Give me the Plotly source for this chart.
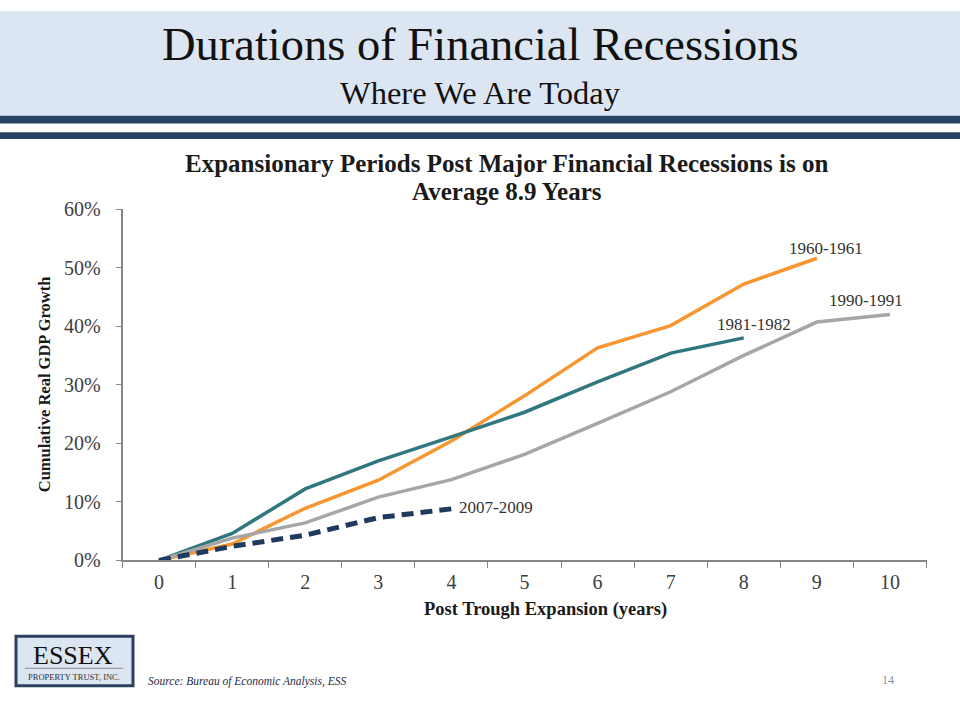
import plotly.graph_objects as go

W, H = 960, 720

years = ["0", "1", "2", "3", "4", "5", "6", "7", "8", "9", "10"]
s_1960 = [0, 2.8, 8.9, 13.7, 20.4, 28.1, 36.3, 40.1, 47.2, 51.6]
s_1981 = [0, 4.6, 12.2, 17.0, 21.1, 25.3, 30.5, 35.4, 38.0]
s_1990 = [0, 3.8, 6.4, 10.8, 13.8, 18.1, 23.4, 28.8, 35.0, 40.7, 42.0]
s_2007 = [0, 2.4, 4.3, 7.3, 8.8]
y_ticks = [0, 10, 20, 30, 40, 50, 60]

names = ["1960-1961", "1981-1982", "1990-1991", "2007-2009"]
colors = ["#F7962F", "#31777F", "#A6A6A6", "#1F3A5F"]

SERIF = "Liberation Serif"

def px(x):
    return x / W

def py(y):
    return 1 - y / H

fig = go.Figure()
for name, vals, col in zip(names[:3], [s_1960, s_1981, s_1990], colors[:3]):
    fig.add_trace(go.Scatter(x=years[:len(vals)], y=vals, mode="lines", name=name,
                             line=dict(color=col, width=3.5), showlegend=False, hoverinfo="skip"))
fig.add_trace(go.Scatter(x=years[:len(s_2007)], y=s_2007, mode="lines", name=names[3],
                         line=dict(color=colors[3], width=5, dash="12px,7px"), showlegend=False,
                         hoverinfo="skip"))

axis_col = "#868686"
fig.update_layout(
    width=W, height=H,
    margin=dict(l=0, r=0, t=0, b=0),
    paper_bgcolor="white", plot_bgcolor="white",
    font=dict(family=SERIF, color="#404040"),
    xaxis=dict(domain=[px(122.5), px(926.5)], type="category", categoryorder="array",
               categoryarray=years, tickmode="array", tickvals=years, ticktext=years,
               tickson="boundaries", ticks="outside", ticklen=6, tickcolor=axis_col,
               showline=True, linecolor=axis_col, linewidth=1.5, showgrid=False,
               zeroline=False, range=[-0.5, 10.5], tickfont=dict(size=20, color="#404040"),
               ticklabelstandoff=3, fixedrange=True),
    yaxis=dict(domain=[py(566.7), py(204.3)], range=[0, 60], tickvals=y_ticks,
               ticktext=[f"{v}%" for v in y_ticks], ticks="outside", ticklen=5,
               tickcolor=axis_col, showline=True, linecolor=axis_col, linewidth=1.5,
               showgrid=False, zeroline=False, tickfont=dict(size=20, color="#404040"),
               ticklabelstandoff=11, fixedrange=True),
)

shapes = [
    dict(type="rect", xref="paper", yref="paper", x0=0, x1=1, y0=py(108), y1=1,
         fillcolor="#DCE6F2", line=dict(width=0), layer="below"),
    dict(type="rect", xref="paper", yref="paper", x0=0, x1=1, y0=py(116), y1=py(108),
         fillcolor="#2A4365", line=dict(width=0)),
    dict(type="rect", xref="paper", yref="paper", x0=0, x1=1, y0=py(132), y1=py(125),
         fillcolor="#2A4365", line=dict(width=0)),
    # logo
    dict(type="rect", xref="paper", yref="paper", x0=px(16), x1=px(133), y0=py(696), y1=py(645),
         fillcolor="#DCE6F2", line=dict(color="#2B3F5F", width=3)),
    dict(type="line", xref="paper", yref="paper", x0=px(25), x1=px(123), y0=py(678), y1=py(678),
         line=dict(color="#8A8A8A", width=1)),
]

annotations = [
    dict(text="Durations of Financial Recessions", x=0.5, y=py(35), font=dict(size=46.5, color="#111111")),
    dict(text="Where We Are Today", x=0.5, y=py(85), font=dict(size=32.5, color="#111111")),
    dict(text="<b>Expansionary Periods Post Major Financial Recessions is on</b>", x=px(507), y=py(157),
         font=dict(size=25, color="#1a1a1a")),
    dict(text="<b>Average 8.9 Years</b>", x=px(507), y=py(186), font=dict(size=25, color="#1a1a1a")),
    dict(text="<b>Post Trough Expansion (years)</b>", x=px(545), y=py(617), font=dict(size=18.5, color="#1a1a1a")),
    dict(text="<b>Cumulative Real GDP Growth</b>", x=px(44), y=py(385), textangle=-90,
         font=dict(size=16.5, color="#1a1a1a")),
    dict(text="ESSEX", x=px(73), y=py(665), font=dict(size=26, color="#111111")),
    dict(text="PROPERTY TRUST, INC.", x=px(73.5), y=py(687), font=dict(size=8.5, color="#333333")),
    dict(text="<i>Source: Bureau of Economic Analysis, ESS</i>", x=px(146), y=py(692), xanchor="left",
         font=dict(size=11.5, color="#1F2A44")),
    dict(text="14", x=px(888), y=py(690), font=dict(size=12, color="#8C8C8C")),
]
for a in annotations:
    a.setdefault("xref", "paper")
    a.setdefault("yref", "paper")
    a.setdefault("xanchor", "center")
    a["yanchor"] = "middle"
    a["showarrow"] = False
    a["font"]["family"] = SERIF

# series labels
label_pos = [(9.12, 53.3, "center"), (8.14, 40.3, "center"), (9.67, 44.3, "center"), (4.07, 9.06, "left")]
for name, (lx, ly, xa) in zip(names, label_pos):
    annotations.append(dict(text=name, x=lx, y=ly, xref="x", yref="y", xanchor=xa, yanchor="middle",
                            showarrow=False, font=dict(family=SERIF, size=17, color="#333333")))

fig.update_layout(shapes=shapes, annotations=annotations)
fig.write_html("out.html", config={"displayModeBar": False},
               post_script="document.body.style.margin='0';document.body.style.overflow='hidden';")
